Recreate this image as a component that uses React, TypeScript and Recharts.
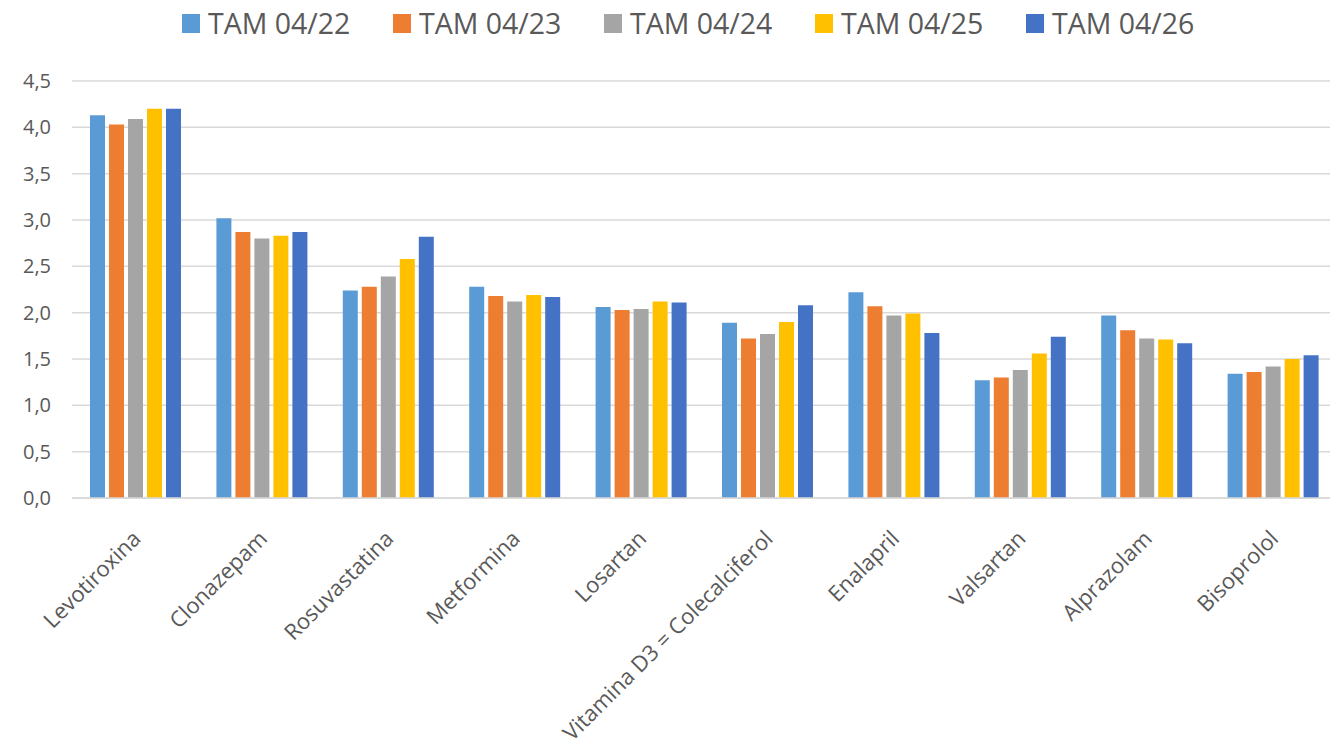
import React from "react";
import { BarChart, Bar, XAxis, YAxis, CartesianGrid, Legend } from "recharts";

const categories = [
  "Levotiroxina",
  "Clonazepam",
  "Rosuvastatina",
  "Metformina",
  "Losartan",
  "Vitamina D3 = Colecalciferol",
  "Enalapril",
  "Valsartan",
  "Alprazolam",
  "Bisoprolol",
];

const seriesNames = ["TAM 04/22", "TAM 04/23", "TAM 04/24", "TAM 04/25", "TAM 04/26"];
const seriesColors = ["#5B9BD5", "#ED7D31", "#A5A5A5", "#FFC000", "#4472C4"];

const tam0422 = [4.13, 3.02, 2.24, 2.28, 2.06, 1.89, 2.22, 1.27, 1.97, 1.34];
const tam0423 = [4.03, 2.87, 2.28, 2.18, 2.03, 1.72, 2.07, 1.30, 1.81, 1.36];
const tam0424 = [4.09, 2.80, 2.39, 2.12, 2.04, 1.77, 1.97, 1.38, 1.72, 1.42];
const tam0425 = [4.20, 2.83, 2.58, 2.19, 2.12, 1.90, 1.99, 1.56, 1.71, 1.50];
const tam0426 = [4.20, 2.87, 2.82, 2.17, 2.11, 2.08, 1.78, 1.74, 1.67, 1.54];

const yTicks = [0, 0.5, 1, 1.5, 2, 2.5, 3, 3.5, 4, 4.5];

const seriesValues = [tam0422, tam0423, tam0424, tam0425, tam0426];
const data = categories.map((name, i) => {
  const row: Record<string, string | number> = { name };
  seriesNames.forEach((s, j) => {
    row[s] = seriesValues[j][i];
  });
  return row;
});

const FONT = "'Open Sans', 'DejaVu Sans', sans-serif";
const TEXT = "#595959";

const XTick = (props: any) => {
  const { x, y, payload } = props;
  return (
    <g transform={`translate(${x},${y})`}>
      <text
        x={0}
        y={0}
        transform="translate(7,42) rotate(-45)"
        textAnchor="end"
        fontSize={22}
        fontFamily={FONT}
        fill={TEXT}
      >
        {payload.value}
      </text>
    </g>
  );
};

const renderLegend = () => (
  <div style={{ display: "flex", marginLeft: 182, height: 46, alignItems: "flex-start" }}>
    {seriesNames.map((s, i) => (
      <div
        key={s}
        style={{ width: 211, display: "flex", alignItems: "center", height: 46 }}
      >
        <div
          style={{
            width: 18,
            height: 19,
            background: seriesColors[i],
            marginRight: 8,
          }}
        />
        <span
          style={{
            fontFamily: FONT,
            fontSize: 28.5,
            color: TEXT,
            lineHeight: "46px",
            whiteSpace: "nowrap",
          }}
        >
          {s}
        </span>
      </div>
    ))}
  </div>
);

export default function App() {
  return (
    <div
      style={{
        position: "absolute",
        left: 0,
        top: 0,
        width: 1330,
        height: 745,
        overflow: "hidden",
        background: "#fff",
      }}
    >
      <BarChart
        width={1340}
        height={745}
        data={data}
        margin={{ top: 35, right: 4, bottom: 0, left: 0 }}
        barSize={15}
        barGap={4}
      >
        <Legend
          verticalAlign="top"
          align="left"
          content={renderLegend}
          wrapperStyle={{ left: 0, top: 0, width: 1340, height: 46 }}
        />
        <CartesianGrid vertical={false} stroke="#d9d9d9" strokeWidth={1.5} />
        <XAxis
          dataKey="name"
          interval={0}
          height={247}
          tickLine={false}
          tickSize={0}
          tickMargin={0}
          axisLine={{ stroke: "#d9d9d9", strokeWidth: 1.5 }}
          tick={<XTick />}
        />
        <YAxis
          width={72}
          domain={[0, 4.5]}
          ticks={yTicks}
          interval={0}
          axisLine={false}
          tickLine={false}
          tickSize={0}
          tickMargin={21}
          tickFormatter={(v: number) => v.toFixed(1).replace(".", ",")}
          tick={{ fontSize: 20, fontFamily: FONT, fill: TEXT }}
        />
        {seriesNames.map((s, i) => (
          <Bar key={s} dataKey={s} fill={seriesColors[i]} isAnimationActive={false} />
        ))}
      </BarChart>
    </div>
  );
}
